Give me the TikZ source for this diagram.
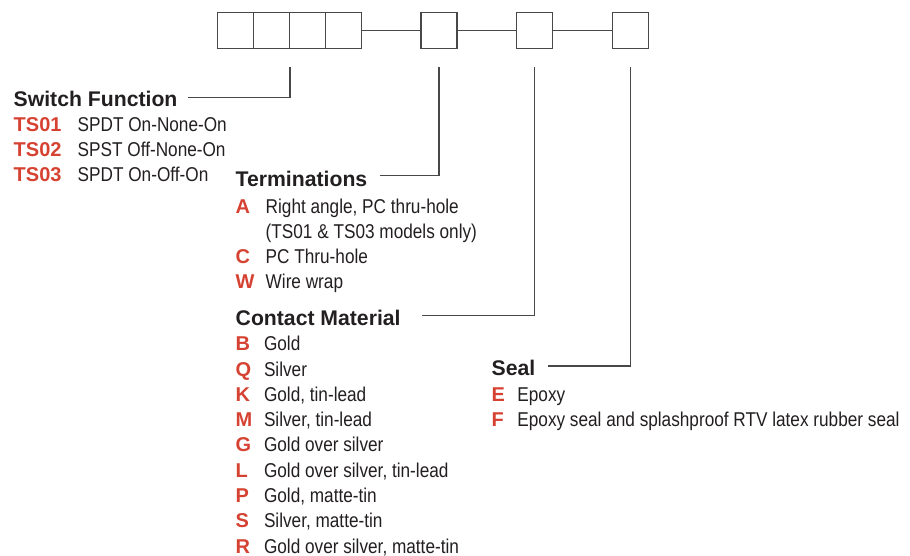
\documentclass[tikz,border=0pt]{standalone}
\usepackage{fontspec}
\setmainfont{Liberation Sans}
\newfontfamily\narrowfont{Liberation Sans}[FakeStretch=0.86]
\definecolor{codered}{RGB}{214,66,50}
\definecolor{ink}{RGB}{35,31,32}
\definecolor{linegray}{RGB}{72,72,72}

\begin{document}
\begin{tikzpicture}[x=1pt,y=-1pt,node distance=36pt,line width=1.4pt,color=linegray,
  box node/.style={rectangle,draw=linegray,minimum size=36pt,inner sep=0pt},
  head node/.style={anchor=base west,inner sep=0pt,text=ink,
    font=\fontsize{21.2}{24}\selectfont\bfseries},
  code node/.style={anchor=base west,inner sep=0pt,text=codered,
    font=\fontsize{20}{24}\selectfont\bfseries},
  item node/.style={anchor=base west,inner sep=0pt,text=ink,
    font=\narrowfont\fontsize{20}{24}\selectfont}]

  \useasboundingbox (0,0) rectangle (910,555);

  % part number boxes
  \node[box node] (1) at (235.3,30.2) {};
  \node[box node] (2) [right of=1] {};
  \node[box node] (3) [right of=2] {};
  \node[box node] (4) [right of=3] {};
  \node[box node] (5) [right of=4, node distance=95.5pt] {};
  \node[box node] (6) [right of=5, node distance=95.8pt] {};
  \node[box node] (7) [right of=6, node distance=96pt] {};

  \path (4) edge (5)
        (5) edge (6)
        (6) edge (7);

  % switch function
  \node[head node] (sf) at (13,106.7) {Switch Function};
  \node[code node] (ts01) at (13,131.7) {TS01};
  \node[item node] (ts01 text) at (77,131.7) {SPDT On-None-On};
  \node[code node] (ts02) at (13,156.6) {TS02};
  \node[item node] (ts02 text) at (77,156.6) {SPST Off-None-On};
  \node[code node] (ts03) at (13,181.6) {TS03};
  \node[item node] (ts03 text) at (77,181.6) {SPDT On-Off-On};

  % terminations
  \node[head node] (term) at (235,186) {Terminations};
  \node[code node] (A) at (235,213.3) {A};
  \node[item node] (A text) at (265,213.3) {Right angle, PC thru-hole};
  \node[item node] (A note) at (265,238.6) {(TS01 \& TS03 models only)};
  \node[code node] (C) at (235,263.3) {C};
  \node[item node] (C text) at (265,263.3) {PC Thru-hole};
  \node[code node] (W) at (235,288.3) {W};
  \node[item node] (W text) at (265,288.3) {Wire wrap};

  % contact material
  \node[head node] (cm) at (235,325.7) {Contact Material};
  \node[code node] (B) at (235,350.7) {B};
  \node[item node] (B text) at (263.3,350.7) {Gold};
  \node[code node] (Q) at (235,376) {Q};
  \node[item node] (Q text) at (263.3,376) {Silver};
  \node[code node] (K) at (235,401.3) {K};
  \node[item node] (K text) at (263.3,401.3) {Gold, tin-lead};
  \node[code node] (M) at (235,426.6) {M};
  \node[item node] (M text) at (263.3,426.6) {Silver, tin-lead};
  \node[code node] (G) at (235,451.9) {G};
  \node[item node] (G text) at (263.3,451.9) {Gold over silver};
  \node[code node] (L) at (235,477.2) {L};
  \node[item node] (L text) at (263.3,477.2) {Gold over silver, tin-lead};
  \node[code node] (P) at (235,502.5) {P};
  \node[item node] (P text) at (263.3,502.5) {Gold, matte-tin};
  \node[code node] (S) at (235,527.8) {S};
  \node[item node] (S text) at (263.3,527.8) {Silver, matte-tin};
  \node[code node] (R) at (235,553) {R};
  \node[item node] (R text) at (263.3,553) {Gold over silver, matte-tin};

  % seal
  \node[head node] (seal) at (491,375) {Seal};
  \node[code node] (E) at (491,401.7) {E};
  \node[item node] (E text) at (516.7,401.7) {Epoxy};
  \node[code node] (F) at (491,426.7) {F};
  \node[item node] (F text) at (516.7,426.7) {Epoxy seal and splashproof RTV latex rubber seal};

  % leaders
  \draw ([xshift=10pt,yshift=9.5pt]sf.base east) -| ([yshift=-18pt]2.south east);
  \draw ([xshift=12pt,yshift=10.3pt]term.base east) -| ([yshift=-18pt]5.south);
  \draw ([xshift=21pt,yshift=10pt]cm.base east) -| ([yshift=-18pt]6.south);
  \draw ([xshift=12pt,yshift=9pt]seal.base east) -| ([yshift=-18pt]7.south);
\end{tikzpicture}
\end{document}
